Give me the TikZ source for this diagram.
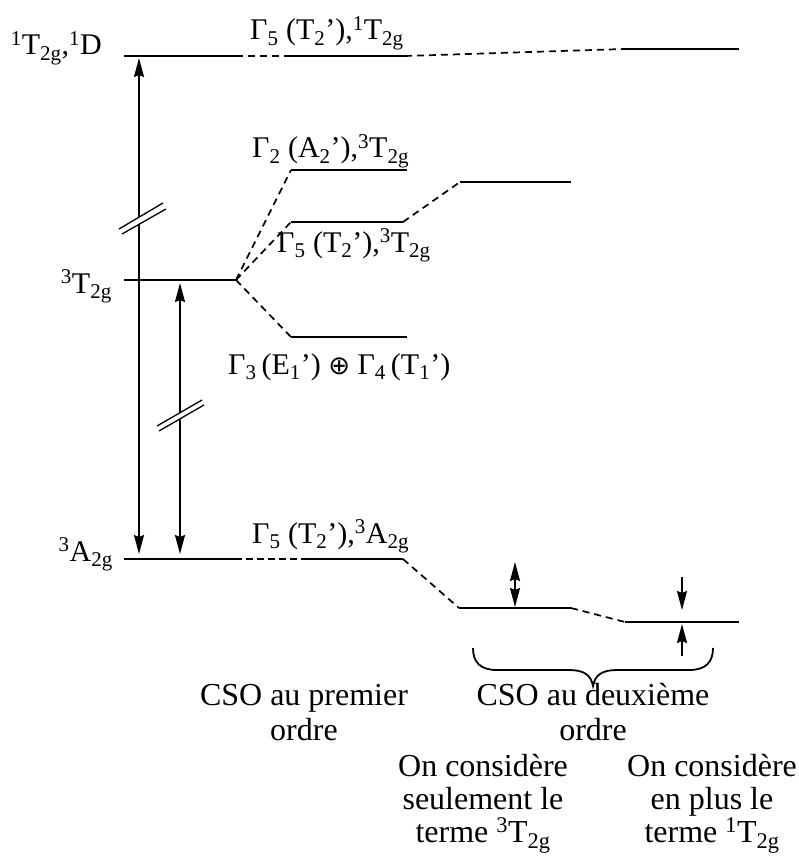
\documentclass[tikz,border=0pt]{standalone}
\usepackage{fontspec}
\setmainfont{Liberation Serif}
\newfontfamily\symf{DejaVu Sans}
\usetikzlibrary{arrows.meta}
\newcommand{\up}[1]{\textsuperscript{#1}}
\newcommand{\dn}[1]{\textsubscript{#1}}
\begin{document}
\begin{tikzpicture}[x=1pt,y=-1pt,
  >={Stealth[length=19pt,width=10pt,inset=2pt]},
  lvl/.style={line width=1.8pt},
  conn/.style={line width=1.7pt, dash pattern=on 7pt off 5pt},
  tight/.style={line width=2.4pt, dash pattern=on 7pt off 4pt},
  arr/.style={line width=1.8pt},
  brk/.style={line width=1.3pt},
  lab/.style={font=\fontsize{30}{31}\selectfont, inner sep=0pt},
  txt/.style={font=\fontsize{32}{34}\selectfont, inner sep=0pt, anchor=base}]
\useasboundingbox[fill=white] (0,0) rectangle (798,861);

% ---- coordinates: 1T2g level
\coordinate (a1) at (124,56); \coordinate (a2) at (236,56);
\coordinate (a3) at (289,56); \coordinate (a4) at (405,56);
\coordinate (a5) at (624,49); \coordinate (a6) at (739,49);
% 3T2g level
\coordinate (b1) at (124,280); \coordinate (b2) at (236,280);
\coordinate (c1) at (291,170); \coordinate (c2) at (407,170);
\coordinate (d1) at (291,222); \coordinate (d2) at (403,222);
\coordinate (d3) at (460,182); \coordinate (d4) at (571,182);
\coordinate (e1) at (291,337); \coordinate (e2) at (407,337);
% 3A2g level
\coordinate (f1) at (124,559); \coordinate (f2) at (235,559);
\coordinate (f3) at (303,559); \coordinate (f4) at (403,559);
\coordinate (f5) at (459,608); \coordinate (f6) at (571,608);
\coordinate (f7) at (625,622); \coordinate (f8) at (739,622);

% ---- levels
\draw[lvl] (a1) -- (a2); \draw[conn] (a2) -- (a3); \draw[lvl] (a3) -- (a4);
\draw[conn] (a4) -- (a5); \draw[lvl] (a5) -- (a6);
\draw[lvl] (b1) -- (b2);
\draw[conn] (b2) -- (c1); \draw[lvl] (c1) -- (c2);
\draw[conn] (b2) -- (d1); \draw[lvl] (d1) -- (d2);
\draw[conn] (d2) -- (d3); \draw[lvl] (d3) -- (d4);
\draw[conn] (b2) -- (e1); \draw[lvl] (e1) -- (e2);
\draw[lvl] (f1) -- (f2); \draw[tight] (f2) -- (f3); \draw[lvl] (f3) -- (f4);
\draw[conn] (f4) -- (f5); \draw[lvl] (f5) -- (f6);
\draw[conn] (f6) -- (f7); \draw[lvl] (f7) -- (f8);

% ---- vertical arrows
\coordinate (p1) at (139,58); \coordinate (p2) at (139,554);
\coordinate (q1) at (180,283); \coordinate (q2) at (180,554);
\draw[arr,<->] (p1) -- (p2);
\draw[arr,<->] (q1) -- (q2);
% break marks
\fill[white] (119,229) -- (163,203) -- (166,209) -- (122,234) -- cycle;
\draw[brk] (119,229) -- (163,203); \draw[brk] (122,234) -- (166,209);
\fill[white] (157,426) -- (202,400) -- (204,405) -- (159,431) -- cycle;
\draw[brk] (157,426) -- (202,400); \draw[brk] (159,431) -- (204,405);

% ---- small arrows
\coordinate (r1) at (515,562); \coordinate (r2) at (515,607);
\draw[arr,<->] (r1) -- (r2);
\coordinate (s1) at (682,577); \coordinate (s2) at (682,610);
\coordinate (t1) at (682,656); \coordinate (t2) at (682,624);
\draw[arr,->] (s1) -- (s2);
\draw[arr,->] (t1) -- (t2);

% ---- brace
\draw[line width=1.8pt] (473,648) .. controls (473,662) and (480,670) .. (497,670)
  -- (569,670) .. controls (584,670) and (591,675) .. (593,686)
  .. controls (595,675) and (602,670) .. (617,670) -- (689,670)
  .. controls (706,670) and (713,662) .. (713,648);

% ---- labels
\node[lab,anchor=base east] (l1) at (102,55) {\up{1}T\dn{2g},\up{1}D};
\node[lab,anchor=base east] (l2) at (112,293) {\up{3}T\dn{2g}};
\node[lab,anchor=base east] (l3) at (113,561) {\up{3}A\dn{2g}};
\node[lab,anchor=base west] (g1) at (250,40) {Γ\dn{5} (T\dn{2}'),\up{1}T\dn{2g}};
\node[lab,anchor=base west] (g2) at (252,158) {Γ\dn{2} (A\dn{2}'),\up{3}T\dn{2g}};
\node[lab,anchor=base west] (g3) at (277,252) {Γ\dn{5} (T\dn{2}'),\up{3}T\dn{2g}};
\node[lab,anchor=base west] (g4) at (228,374) {Γ\dn{3}\,(E\dn{1}') {\symf\fontsize{26}{27}\selectfont ⊕} Γ\dn{4}\,(T\dn{1}')};
\node[lab,anchor=base west] (g5) at (252,543) {Γ\dn{5} (T\dn{2}'),\up{3}A\dn{2g}};

\node[txt] (x1a) at (304,705) {CSO au premier};
\node[txt] (x1b) at (304,740) {ordre};
\node[txt] (x2a) at (593,705) {CSO au deuxième};
\node[txt] (x2b) at (593,740) {ordre};
\node[txt] (x3a) at (483,776) {On considère};
\node[txt] (x3b) at (483,809) {seulement le};
\node[txt] (x3c) at (483,842) {terme \up{3}T\dn{2g}};
\node[txt] (x4a) at (712,776) {On considère};
\node[txt] (x4b) at (712,809) {en plus le};
\node[txt] (x4c) at (712,842) {terme \up{1}T\dn{2g}};
\end{tikzpicture}
\end{document}
